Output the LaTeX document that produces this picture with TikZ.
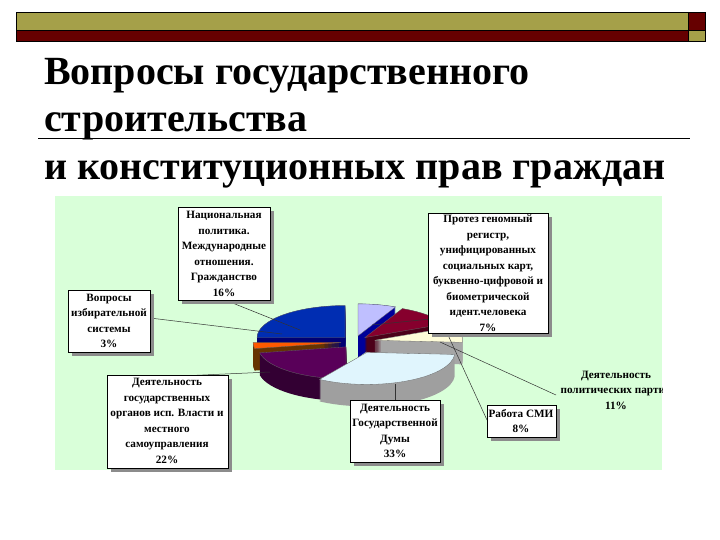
\documentclass[tikz,border=0pt]{standalone}
\usepackage{fontspec}
\setmainfont{Liberation Serif}
\usetikzlibrary{calc}
\begin{document}
\begin{tikzpicture}[x=1pt,y=1pt,
  lb/.style={font=\fontsize{11.2}{15.5}\selectfont\bfseries,align=center,inner sep=1pt},
  ttl/.style={anchor=base west,font=\fontsize{40}{44}\selectfont\bfseries,inner sep=0},
  lead/.style={draw=black!80,line width=0.5pt}]
\useasboundingbox (0,0) rectangle (720,-540);
\fill[white] (0,0) rectangle (720,-540);
% top bars
\fill[olive!70!gray!80] (16,-12) rectangle (688,-30);
\fill[red!40!black] (16,-30) rectangle (688,-41);
\fill[red!40!black] (688,-12) rectangle (705,-30);
\fill[olive!70!gray!80] (688,-30) rectangle (705,-41);
\draw[line width=0.8pt] (16,-12) rectangle (705,-41);
\draw[line width=0.6pt] (688,-12) -- (688,-41) (16,-30) -- (705,-30);
% title
\node[ttl] (t1) at (44,-85) {Вопросы государственного};
\node[ttl] (t2) at (44,-132) {строительства};
\node[ttl] (t3) at (44,-180) {и конституционных прав граждан};
\draw[line width=0.6pt] (38,-138) -- (690,-138);
% chart background
\fill[green!15] (55,-196) rectangle (662,-470);
% pie
\def\rx{88}\def\ry{32}\def\th{22}
\newcommand{\slice}[5]{%
  \pgfmathsetmacro{\mid}{(#1+#2)/2}
  \begin{scope}[shift={($(355,-342)+(\mid:#3 and #3*0.45)$)}]
    \foreach \k in {0,1,...,\th}{
      \fill[#5] (0,-\k) -- ++(#1:\rx pt and \ry pt) arc[start angle=#1,end angle=#2,x radius=\rx,y radius=\ry] -- cycle;}
    \fill[#4,draw=black!60,line width=0.3pt] (0,0) -- ++(#1:\rx pt and \ry pt) arc[start angle=#1,end angle=#2,x radius=\rx,y radius=\ry] -- cycle;
  \end{scope}}
\slice{90}{180}{14}{blue!75!cyan!70!black}{blue!45!black}
\slice{64.8}{90}{14}{blue!25!white}{blue!60!black}
\slice{25.2}{64.8}{14}{purple!70!black}{purple!40!black}
\slice{180}{190.8}{14}{orange!70!red}{orange!40!black}
\slice{-3.6}{25.2}{20}{yellow!15!white}{gray!70}
\slice{190.8}{270}{14}{violet!70!black}{violet!40!black}
\slice{-122.4}{-3.6}{26}{cyan!12!white}{gray!75}
% leaders
\draw[lead] (225,-300) -- (300,-330);
\draw[lead] (150,-318) -- (282,-334);
\draw[lead] (440,-318) -- (372,-325);
\draw[lead] (180,-376) -- (270,-372);
\draw[lead] (395,-400) -- (395,-384);
\draw[lead] (448,-335) -- (487,-420);
\draw[lead] (440,-342) -- (556,-395);
% labels
\newcommand{\lab}[4]{\fill[black!45] (#1+4,#2-4) rectangle (#3+4,#4-4);
  \fill[white,draw=black,line width=0.6pt] (#1,#2) rectangle (#3,#4);}
\lab{178}{-207}{270}{-300}
\node[lb] (l1) at (224,-254) {Национальная\\политика.\\Международные\\отношения.\\Гражданство\\16\%};
\lab{68}{-290}{150}{-352}
\node[lb] (l2) at (109,-321) {Вопросы\\избирательной\\системы\\3\%};
\lab{428}{-213}{548}{-333}
\node[lb] (l3) at (488,-273) {Протез геномный\\регистр,\\унифицированных\\социальных карт,\\буквенно-цифровой и\\биометрической\\идент.человека\\7\%};
\lab{107}{-375}{228}{-468}
\node[lb] (l4) at (167,-421) {Деятельность\\государственных\\органов исп. Власти и\\местного\\самоуправления\\22\%};
\lab{350}{-400}{440}{-462}
\node[lb] (l5) at (395,-431) {Деятельность\\Государственной\\Думы\\33\%};
\lab{487}{-405}{556}{-437}
\node[lb] (l6) at (521,-421) {Работа СМИ\\8\%};
\begin{scope}
\clip (55,-196) rectangle (662,-470);
\node[lb] (l7) at (616,-390) {Деятельность\\политических партий\\11\%};
\end{scope}
\end{tikzpicture}
\end{document}
